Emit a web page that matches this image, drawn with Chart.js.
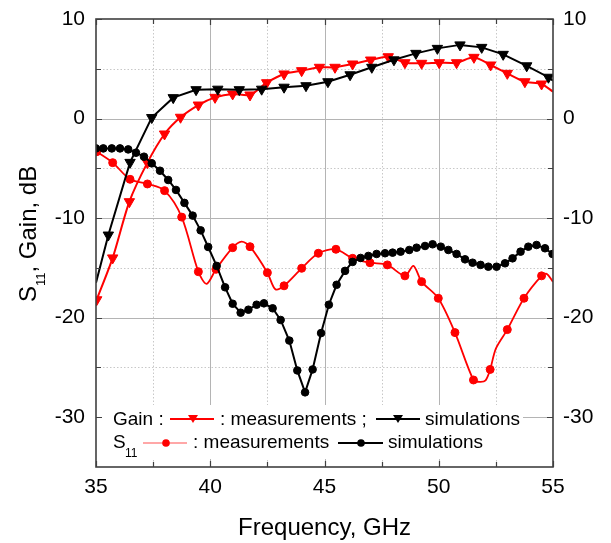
<!DOCTYPE html>
<html>
<head>
<meta charset="utf-8">
<script src="https://cdn.jsdelivr.net/npm/chart.js@4.4.1/dist/chart.umd.min.js"></script>
<style>
  html, body { margin: 0; padding: 0; background: #fff; }
  #wrap { width: 611px; height: 543px; }
</style>
</head>
<body>
<div id="wrap"><canvas id="chart"></canvas></div>
<script>
const FONT = "'Liberation Sans', Arial, sans-serif";

const xTicks = [35, 40, 45, 50, 55];
const yTicks = [-30, -20, -10, 0, 10];

// Gain, simulations (black triangles)
const gainSimFreq = [35.0, 35.54, 36.49, 37.44, 38.38, 39.38, 40.33, 41.27, 42.25, 43.23, 44.19, 45.15,
                     46.12, 47.07, 48.04, 49.0, 49.94, 50.93, 51.88, 52.82, 53.85, 54.8, 55.0];
const gainSimDb   = [-16.5, -11.7, -4.4, 0.1, 2.1, 2.9, 2.95, 2.9, 2.95, 3.15, 3.3, 3.7,
                     4.4, 5.15, 5.9, 6.55, 7.05, 7.4, 7.15, 6.45, 5.3, 4.15, 3.8];
const gainSimMark = [0, 1, 1, 1, 1, 1, 1, 1, 1, 1, 1, 1, 1, 1, 1, 1, 1, 1, 1, 1, 1, 1, 0];

// Gain, measurements (red triangles)
const gainMeasFreq = [35.03, 35.73, 36.46, 37.25, 38.0, 38.7, 39.48, 40.21, 40.98, 41.74, 42.47, 43.23,
                      44.0, 44.78, 45.46, 46.23, 47.02, 47.79, 48.52, 49.25, 50.02, 50.78, 51.54, 52.27,
                      53.0, 53.77, 54.5, 55.0];
const gainMeasDb   = [-18.2, -14.0, -8.35, -4.43, -1.55, 0.13, 1.36, 2.13, 2.47, 2.37, 3.6, 4.48,
                      4.81, 5.15, 5.15, 5.48, 5.88, 6.21, 5.61, 5.55, 5.61, 5.61, 6.15, 5.38,
                      4.54, 3.7, 3.47, 2.7];
const gainMeasMark = [1, 1, 1, 1, 1, 1, 1, 1, 1, 1, 1, 1, 1, 1, 1, 1, 1, 1, 1, 1, 1, 1, 1, 1, 1, 1, 1, 0];

// S11, simulations (black circles)
const s11SimFreq = [35.0, 35.32, 35.69, 36.05, 36.41, 36.75, 37.1, 37.44, 37.8, 38.16, 38.5, 38.87,
                    39.23, 39.58, 39.91, 40.28, 40.65, 40.98, 41.33, 41.67, 42.03, 42.35, 42.73, 43.08,
                    43.46, 43.81, 44.15, 44.48, 44.85, 45.19, 45.53, 45.9, 46.23, 46.58, 46.92, 47.28,
                    47.65, 47.98, 48.33, 48.71, 49.03, 49.4, 49.73, 50.09, 50.42, 50.78, 51.15, 51.48,
                    51.83, 52.17, 52.53, 52.9, 53.23, 53.58, 53.92, 54.28, 54.65, 54.98];
const s11SimDb   = [-3.0, -3.0, -3.0, -3.0, -3.1, -3.43, -3.83, -4.5, -5.24, -6.17, -7.17, -8.47,
                    -9.75, -11.23, -12.9, -14.8, -16.95, -18.6, -19.5, -19.2, -18.7, -18.56, -19.06, -20.23,
                    -22.3, -25.3, -27.5, -25.2, -21.55, -18.7, -16.7, -15.3, -14.4, -14.0, -13.8, -13.6,
                    -13.53, -13.47, -13.37, -13.2, -12.97, -12.8, -12.63, -12.87, -13.2, -13.6, -14.14, -14.48,
                    -14.7, -14.88, -14.88, -14.54, -14.04, -13.37, -12.87, -12.7, -13.03, -13.6];

// S11, measurements (red circles); 0 = curve point without marker
const s11MeasFreq = [35.03, 35.73, 36.49, 37.25, 38.0, 38.75, 39.48, 39.84, 40.25, 40.98, 41.37, 41.74,
                     42.5, 42.85, 43.23, 44.0, 44.73, 45.5, 46.23, 46.99, 47.75, 48.52, 48.89, 49.25,
                     49.98, 50.71, 51.52, 51.8, 52.05, 52.25, 52.5, 53.0, 53.73, 54.5, 54.72, 55.0];
const s11MeasDb   = [-3.33, -4.43, -6.1, -6.57, -7.24, -9.9, -15.38, -16.6, -15.14, -12.97, -12.37, -12.87,
                     -15.48, -17.15, -16.8, -15.04, -13.53, -13.13, -14.04, -14.48, -14.7, -15.8, -14.8, -16.38,
                     -18.05, -21.5, -26.26, -26.45, -26.3, -25.2, -23.1, -21.2, -18.05, -15.8, -15.6, -16.4];
const s11MeasMark = [1, 1, 1, 1, 1, 1, 1, 0, 1, 1, 0, 1,
                     1, 0, 1, 1, 1, 1, 1, 1, 1, 1, 0, 1,
                     1, 1, 1, 0, 0, 1, 0, 1, 1, 1, 0, 0];

const pts = (fx, fy) => fx.map((f, i) => ({ x: f, y: fy[i] }));
const byMark = (marks, r) => (c) => (marks[c.dataIndex] ? r : 0);
const allOn = s11SimFreq.map(() => 1);

const RED = '#ff0000';
const BLACK = '#000000';

const framePlugin = {
  id: 'framePlugin',
  beforeDatasetsDraw(chart) {
    const { ctx, chartArea: a, scales: { x, y } } = chart;
    ctx.save();
    ctx.lineWidth = 1;
    // minor grid, dotted
    ctx.strokeStyle = '#c8c8c8';
    ctx.setLineDash([1.5, 2]);
    for (let i = 0; i < xTicks.length - 1; i++) {
      const px = Math.round(x.getPixelForValue((xTicks[i] + xTicks[i + 1]) / 2)) + 0.5;
      ctx.beginPath(); ctx.moveTo(px, a.top); ctx.lineTo(px, a.bottom); ctx.stroke();
    }
    for (let i = 0; i < yTicks.length - 1; i++) {
      const py = Math.round(y.getPixelForValue((yTicks[i] + yTicks[i + 1]) / 2)) + 0.5;
      ctx.beginPath(); ctx.moveTo(a.left, py); ctx.lineTo(a.right, py); ctx.stroke();
    }
    // major grid, solid
    ctx.setLineDash([]);
    ctx.strokeStyle = '#b4b4b4';
    xTicks.slice(1, -1).forEach(v => {
      const px = Math.round(x.getPixelForValue(v)) + 0.5;
      ctx.beginPath(); ctx.moveTo(px, a.top); ctx.lineTo(px, a.bottom); ctx.stroke();
    });
    yTicks.filter(v => v < y.max && v > y.min).forEach(v => {
      const py = Math.round(y.getPixelForValue(v)) + 0.5;
      ctx.beginPath(); ctx.moveTo(a.left, py); ctx.lineTo(a.right, py); ctx.stroke();
    });
    // legend background
    ctx.fillStyle = '#fff';
    ctx.fillRect(a.left + 1, a.top + 386, 426, 54);
    ctx.restore();
  },
  afterDatasetsDraw(chart) {
    const { ctx, chartArea: a, scales: { x, y } } = chart;
    ctx.save();
    // inner ticks
    ctx.strokeStyle = '#404040';
    ctx.lineWidth = 1.2;
    const xs = [];
    xTicks.forEach((v, i) => {
      xs.push([v, 6]);
      if (i < xTicks.length - 1) xs.push([(v + xTicks[i + 1]) / 2, 5]);
    });
    xs.forEach(([v, len]) => {
      const px = Math.round(x.getPixelForValue(v)) + 0.5;
      ctx.beginPath();
      ctx.moveTo(px, a.bottom); ctx.lineTo(px, a.bottom - len);
      ctx.moveTo(px, a.top); ctx.lineTo(px, a.top + len);
      ctx.stroke();
    });
    const ys = [];
    yTicks.forEach((v, i) => {
      ys.push([v, 6]);
      if (i < yTicks.length - 1) ys.push([(v + yTicks[i + 1]) / 2, 5]);
    });
    ys.forEach(([v, len]) => {
      const py = Math.round(y.getPixelForValue(v)) + 0.5;
      ctx.beginPath();
      ctx.moveTo(a.left, py); ctx.lineTo(a.left + len, py);
      ctx.moveTo(a.right, py); ctx.lineTo(a.right - len, py);
      ctx.stroke();
    });
    // frame
    ctx.lineWidth = 1.6;
    ctx.strokeRect(a.left, a.top, a.right - a.left, a.bottom - a.top);

    // legend
    const L = a.left, T = a.top;
    ctx.fillStyle = '#000';
    ctx.textBaseline = 'alphabetic';
    ctx.textAlign = 'left';
    ctx.font = '19px ' + FONT;
    const r1 = T + 406, r2 = T + 429;
    ctx.fillText('Gain :', L + 17, r1);
    ctx.fillText(': measurements ;', L + 124, r1);
    ctx.fillText('simulations', L + 329, r1);
    ctx.fillText('S', L + 17, r2);
    ctx.fillText(': measurements', L + 97, r2);
    ctx.fillText('simulations', L + 292, r2);
    ctx.font = '12px ' + FONT;
    ctx.fillText('11', L + 29, r2 + 9);

    const sampleLine = (x0, x1, yy, col, w) => {
      ctx.strokeStyle = col; ctx.lineWidth = w;
      ctx.beginPath(); ctx.moveTo(L + x0, yy); ctx.lineTo(L + x1, yy); ctx.stroke();
    };
    const tri = (cx, cy, col) => {
      ctx.fillStyle = col;
      ctx.beginPath();
      ctx.moveTo(cx - 5, cy - 4); ctx.lineTo(cx + 5, cy - 4); ctx.lineTo(cx, cy + 4);
      ctx.closePath(); ctx.fill();
    };
    const dot = (cx, cy, col) => {
      ctx.fillStyle = col;
      ctx.beginPath(); ctx.arc(cx, cy, 3.8, 0, Math.PI * 2); ctx.fill();
    };
    const y1 = T + 400, y2 = T + 424;
    sampleLine(74, 118, y1, RED, 2);
    tri(L + 97, y1, RED);
    sampleLine(280, 324, y1, BLACK, 2);
    tri(L + 302, y1, BLACK);
    sampleLine(47, 91, y2, '#ff5050', 1.2);
    dot(L + 70, y2, RED);
    sampleLine(242, 287, y2, BLACK, 2);
    dot(L + 265, y2, BLACK);

    // axis titles
    ctx.fillStyle = '#000';
    ctx.font = '24px ' + FONT;
    ctx.textAlign = 'center';
    ctx.fillText('Frequency, GHz', (a.left + a.right) / 2, 535);

    ctx.translate(36, 302);
    ctx.rotate(-Math.PI / 2);
    ctx.textAlign = 'left';
    ctx.font = '24px ' + FONT;
    ctx.fillText('S', 0, 0);
    let w = ctx.measureText('S').width;
    ctx.font = '13px ' + FONT;
    ctx.fillText('11', w, 9);
    w += ctx.measureText('11').width;
    ctx.font = '24px ' + FONT;
    ctx.fillText(', Gain, dB', w, 0);
    ctx.restore();
  }
};

const yAxisCommon = {
  type: 'linear',
  min: -35,
  max: 10,
  afterBuildTicks: s => { s.ticks = yTicks.map(v => ({ value: v })); },
  grid: { display: false, drawTicks: false },
  border: { display: false },
};

new Chart(document.getElementById('chart'), {
  type: 'line',
  data: {
    datasets: [
      {
        label: 'S11 simulations',
        data: pts(s11SimFreq, s11SimDb),
        borderColor: BLACK, backgroundColor: BLACK, borderWidth: 2,
        pointStyle: 'circle', pointRadius: byMark(allOn, 3.8), pointBorderWidth: 1,
        tension: 0,
      },
      {
        label: 'Gain simulations',
        data: pts(gainSimFreq, gainSimDb),
        borderColor: BLACK, backgroundColor: BLACK, borderWidth: 2,
        pointStyle: 'triangle', rotation: 180, pointRadius: byMark(gainSimMark, 6), pointBorderWidth: 1,
        tension: 0,
      },
      {
        label: 'S11 measurements',
        data: pts(s11MeasFreq, s11MeasDb),
        borderColor: RED, backgroundColor: RED, borderWidth: 1.8,
        pointStyle: 'circle', pointRadius: byMark(s11MeasMark, 4), pointBorderWidth: 1,
        tension: 0.3,
      },
      {
        label: 'Gain measurements',
        data: pts(gainMeasFreq, gainMeasDb),
        borderColor: RED, backgroundColor: RED, borderWidth: 2,
        pointStyle: 'triangle', rotation: 180, pointRadius: byMark(gainMeasMark, 6), pointBorderWidth: 1,
        tension: 0.25,
      },
    ]
  },
  options: {
    responsive: true,
    maintainAspectRatio: false,
    animation: false,
    layout: { padding: { top: 19, left: 0, right: 0, bottom: 0 } },
    plugins: {
      legend: { display: false },
      tooltip: { enabled: false },
    },
    scales: {
      x: {
        type: 'linear',
        min: 35,
        max: 55,
        afterBuildTicks: s => { s.ticks = xTicks.map(v => ({ value: v })); },
        afterFit: s => { s.height = 76; },
        grid: { display: false, drawTicks: false },
        border: { display: false },
        ticks: { color: '#000', font: { family: FONT, size: 21 }, padding: 8, maxRotation: 0 },
      },
      y: {
        ...yAxisCommon,
        position: 'left',
        afterFit: s => { s.width = 96; },
        ticks: { color: '#000', font: { family: FONT, size: 21, lineHeight: 0.5 }, padding: 11 },
      },
      y2: {
        ...yAxisCommon,
        position: 'right',
        afterFit: s => { s.width = 58; },
        ticks: { color: '#000', font: { family: FONT, size: 21, lineHeight: 0.5 }, padding: 10 },
      },
    }
  },
  plugins: [framePlugin]
});
</script>
</body>
</html>
